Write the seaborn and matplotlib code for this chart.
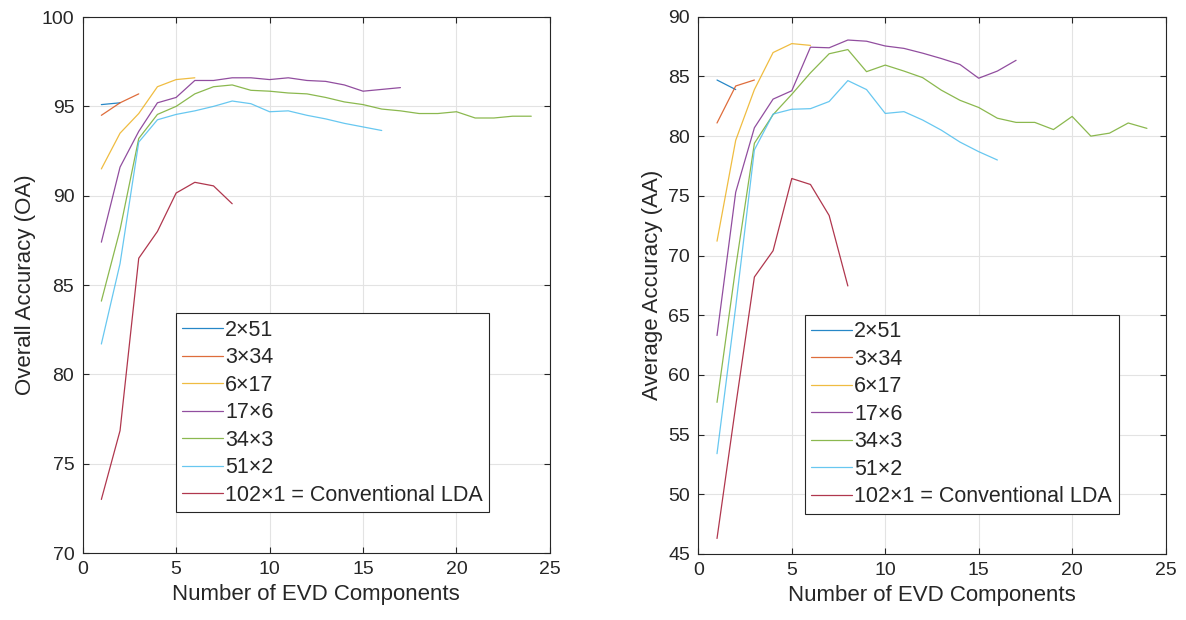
import numpy as np
import pandas as pd
import matplotlib
matplotlib.use("Agg")
import matplotlib.pyplot as plt
import seaborn as sns

# series names and colours (MATLAB default order)
labels = ["2×51", "3×34", "6×17", "17×6", "34×3", "51×2", "102×1 = Conventional LDA"]
colors = ["#0072BD", "#D95319", "#EDB120", "#7E2F8E", "#77AC30", "#4DBEEE", "#A2142F"]

# Overall Accuracy (OA) values, x = 1..n
oa_2x51 = [95.1, 95.2]
oa_3x34 = [94.5, 95.2, 95.7]
oa_6x17 = [91.5, 93.5, 94.6, 96.1, 96.5, 96.6]
oa_17x6 = [87.4, 91.6, 93.6, 95.2, 95.5, 96.45, 96.45, 96.6, 96.6, 96.5, 96.6, 96.45,
           96.4, 96.2, 95.85, 95.95, 96.05]
oa_34x3 = [84.1, 88.1, 93.2, 94.55, 95.0, 95.7, 96.1, 96.2, 95.9, 95.85, 95.75, 95.7,
           95.5, 95.25, 95.1, 94.85, 94.75, 94.6, 94.6, 94.7, 94.35, 94.35, 94.45, 94.45]
oa_51x2 = [81.7, 86.2, 93.0, 94.25, 94.55, 94.75, 95.0, 95.3, 95.15, 94.7, 94.75, 94.5,
           94.3, 94.05, 93.85, 93.65]
oa_102x1 = [73.0, 76.85, 86.5, 88.0, 90.15, 90.75, 90.55, 89.55]

# Average Accuracy (AA) values
aa_2x51 = [84.7, 83.9]
aa_3x34 = [81.1, 84.2, 84.7]
aa_6x17 = [71.2, 79.65, 83.9, 87.0, 87.75, 87.6]
aa_17x6 = [63.3, 75.3, 80.7, 83.1, 83.8, 87.45, 87.4, 88.05, 87.95, 87.55, 87.35, 86.95,
           86.5, 86.0, 84.85, 85.45, 86.35]
aa_34x3 = [57.7, 69.0, 79.4, 81.8, 83.5, 85.3, 86.9, 87.25, 85.4, 85.95, 85.45, 84.9,
           83.85, 83.0, 82.4, 81.5, 81.15, 81.15, 80.55, 81.65, 80.0, 80.25, 81.1, 80.65]
aa_51x2 = [53.4, 65.7, 78.85, 81.85, 82.25, 82.3, 82.9, 84.65, 83.9, 81.9, 82.05, 81.35,
           80.5, 79.5, 78.7, 78.0]
aa_102x1 = [46.3, 57.4, 68.2, 70.4, 76.45, 75.95, 73.35, 67.45]


def to_frame(series_list):
    rows = []
    for name, vals in zip(labels, series_list):
        for i, v in enumerate(vals):
            rows.append({"n": i + 1, "acc": v, "config": name})
    return pd.DataFrame(rows)


oa_df = to_frame([oa_2x51, oa_3x34, oa_6x17, oa_17x6, oa_34x3, oa_51x2, oa_102x1])
aa_df = to_frame([aa_2x51, aa_3x34, aa_6x17, aa_17x6, aa_34x3, aa_51x2, aa_102x1])

sns.set_style("white")
plt.rcParams["font.family"] = ["Liberation Sans", "DejaVu Sans"]

fig = plt.figure(figsize=(11.86, 6.2), dpi=100)
ax1 = fig.add_axes([0.0697, 0.108, 0.394, 0.8645])
ax2 = fig.add_axes([0.5888, 0.1065, 0.394, 0.8665])

panels = [
    (ax1, oa_df, "Overall Accuracy (OA)", (70, 100), np.arange(70, 101, 5), (0.199, 0.447)),
    (ax2, aa_df, "Average Accuracy (AA)", (45, 90), np.arange(45, 91, 5), (0.228, 0.445)),
]

for ax, df, ylab, ylim, yticks, legpos in panels:
    sns.lineplot(data=df, x="n", y="acc", hue="config", hue_order=labels,
                 palette=colors, linewidth=0.9, alpha=0.85, ax=ax, legend=True)
    ax.set_xlim(0, 25)
    ax.set_ylim(*ylim)
    ax.set_xticks([0, 5, 10, 15, 20, 25])
    ax.set_yticks(yticks)
    ax.grid(True, color="#e3e3e3", linewidth=0.8)
    ax.set_axisbelow(True)
    for s in ax.spines.values():
        s.set_color("#262626")
        s.set_linewidth(0.8)
    ax.tick_params(direction="in", length=4, width=0.8, color="#262626",
                   labelsize=14, top=True, right=True, bottom=True, left=True,
                   labelcolor="#262626", pad=6)
    ax.set_xlabel("Number of EVD Components", fontsize=16, color="#262626")
    ax.set_ylabel(ylab, fontsize=16, color="#262626")
    leg = ax.legend(loc="upper left", bbox_to_anchor=legpos, borderaxespad=0,
                    fontsize=15.5, frameon=True, fancybox=False, framealpha=1,
                    edgecolor="#262626", handlelength=1.9, handletextpad=0.1,
                    labelspacing=0.3, borderpad=0.3)
    leg.get_frame().set_linewidth(0.8)
    for line in leg.get_lines():
        line.set_alpha(0.85)

fig.savefig("out.png", dpi=100)
